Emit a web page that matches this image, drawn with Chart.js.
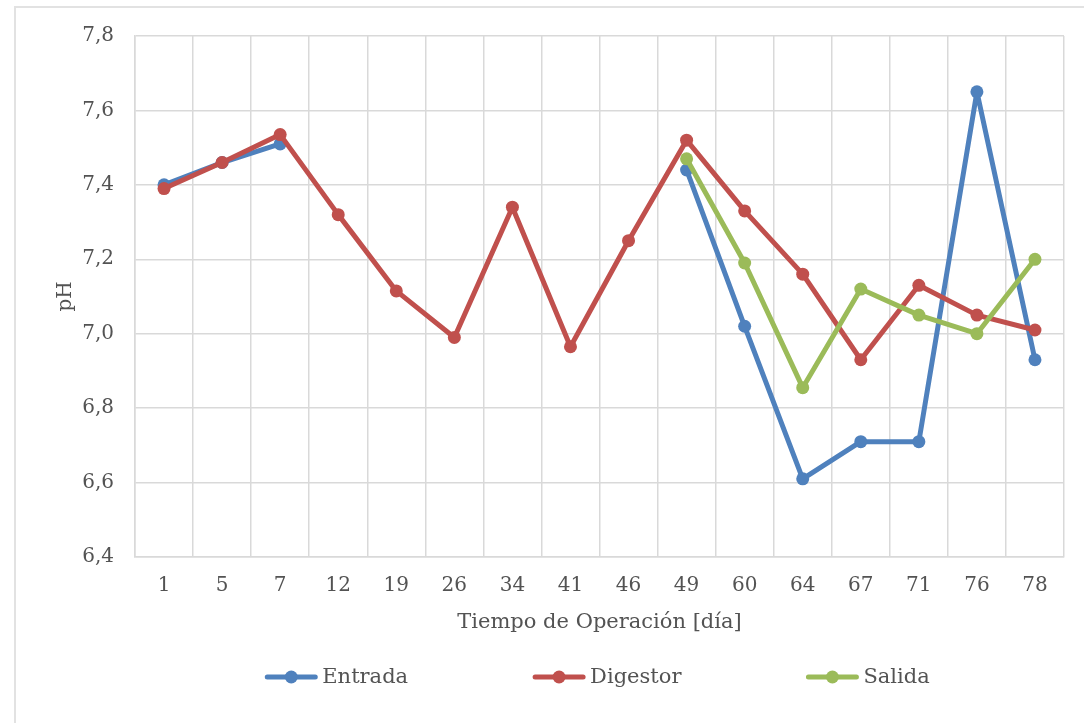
<!DOCTYPE html>
<html>
<head>
<meta charset="utf-8">
<script src="https://cdn.jsdelivr.net/npm/chart.js@4"></script>
<style>
  html, body { margin: 0; padding: 0; background: #ffffff; }
  #frame { position: absolute; left: 14px; top: 6px; width: 1120px; height: 760px;
           border: 2px solid #e2e2e2; box-sizing: border-box; }
  #wrap { position: absolute; left: 0; top: 0; width: 1084px; height: 723px; }
</style>
</head>
<body>
<div id="frame"></div>
<div id="wrap"><canvas id="chart" width="1084" height="723"></canvas></div>
<script>
// Operating days (categories)
const dias = ['1', '5', '7', '12', '19', '26', '34', '41', '46', '49', '60', '64', '67', '71', '76', '78'];

// pH per sampling point
const entrada  = [7.40, 7.46, 7.51, null, null, null, null, null, null, 7.44, 7.02, 6.61, 6.71, 6.71, 7.65, 6.93];
const digestor = [7.39, 7.46, 7.535, 7.32, 7.115, 6.99, 7.34, 6.965, 7.25, 7.52, 7.33, 7.16, 6.93, 7.13, 7.05, 7.01];
const salida   = [null, null, null, null, null, null, null, null, null, 7.47, 7.19, 6.855, 7.12, 7.05, 7.00, 7.20];

// Y axis range
const yMin = 6.4;
const yMax = 7.8;
const yStep = 0.2;

const TEXT = '#535353';
const GRID = '#d9d9d9';
const FONT = 'DejaVu Serif';

function serie(label, data, color, order) {
  return {
    label, data, order,
    borderColor: color,
    backgroundColor: color,
    borderWidth: 5,
    borderJoinStyle: 'round',
    borderCapStyle: 'round',
    pointRadius: 6.5,
    pointBorderWidth: 0,
    pointBackgroundColor: color,
    tension: 0,
    spanGaps: false
  };
}

// Legend centred under the plot: line with marker, then the series name
const bottomLegend = {
  id: 'bottomLegend',
  afterDraw(chart) {
    const ctx = chart.ctx;
    const area = chart.chartArea;
    const y = 677;
    const lineLen = 52, textGap = 5, itemGap = 125;
    ctx.save();
    ctx.font = '21px "' + FONT + '"';
    const items = chart.data.datasets.map(ds => ({
      ds, w: lineLen + textGap + ctx.measureText(ds.label).width
    }));
    const total = items.reduce((s, it) => s + it.w, 0) + itemGap * (items.length - 1);
    let x = (area.left + area.right) / 2 - total / 2 - 2;
    items.forEach(it => {
      ctx.strokeStyle = it.ds.borderColor;
      ctx.lineWidth = 5;
      ctx.lineCap = 'round';
      ctx.beginPath();
      ctx.moveTo(x + 2, y);
      ctx.lineTo(x + lineLen - 2, y);
      ctx.stroke();
      ctx.fillStyle = it.ds.borderColor;
      ctx.beginPath();
      ctx.arc(x + lineLen / 2, y, 6.5, 0, Math.PI * 2);
      ctx.fill();
      ctx.fillStyle = TEXT;
      ctx.textAlign = 'left';
      ctx.textBaseline = 'middle';
      ctx.fillText(it.ds.label, x + lineLen + textGap, y + 1);
      x += it.w + itemGap;
    });
    ctx.restore();
  }
};

new Chart(document.getElementById('chart'), {
  type: 'line',
  data: {
    labels: dias,
    datasets: [
      serie('Entrada', entrada, '#4f81bd', 2),
      serie('Digestor', digestor, '#c0504d', 1),
      serie('Salida', salida, '#9bbb59', 0)
    ]
  },
  options: {
    responsive: false,
    animation: false,
    devicePixelRatio: 1,
    layout: { padding: { top: 36, right: 20, bottom: 70, left: 0 } },
    plugins: {
      legend: { display: false },
      tooltip: { enabled: false }
    },
    scales: {
      x: {
        offset: true,
        grid: { color: GRID, lineWidth: 1.5, drawTicks: false, offset: true },
        border: { color: GRID, width: 1.5 },
        ticks: { color: TEXT, font: { family: FONT, size: 20 }, padding: 17, maxRotation: 0, autoSkip: false },
        title: {
          display: true, text: 'Tiempo de Operación [día]', color: TEXT,
          font: { family: FONT, size: 21 }, padding: { top: 0, bottom: 18 }
        },
        afterFit(scale) { scale.height = 96; }
      },
      y: {
        min: yMin, max: yMax,
        grid: { color: GRID, lineWidth: 1.5, drawTicks: false },
        border: { color: GRID, width: 1.5 },
        ticks: {
          stepSize: yStep, color: TEXT, font: { family: FONT, size: 20 }, padding: 21,
          callback: v => v.toFixed(1).replace('.', ',')
        },
        title: {
          display: true, text: 'pH', color: TEXT,
          font: { family: FONT, size: 20 }, padding: { top: 54, bottom: 0 }
        },
        afterFit(scale) { scale.width = 135; }
      }
    }
  },
  plugins: [bottomLegend]
});
</script>
</body>
</html>
